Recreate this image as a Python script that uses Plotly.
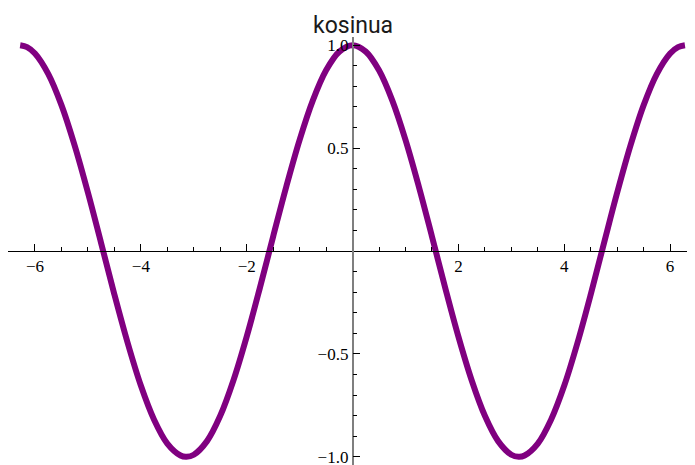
import plotly.graph_objects as go

# Values (cosine curve "kosinua")
x_vals = [-6.28, -6.15, -6.0, -5.75, -5.5, -5.25, -5.0, -4.75, -4.5, -4.25, -4.0,
          -3.75, -3.5, -3.25, -3.14, -3.0, -2.75, -2.5, -2.25, -2.0, -1.75, -1.5,
          -1.25, -1.0, -0.75, -0.5, -0.25, 0.0, 0.25, 0.5, 0.75, 1.0, 1.25, 1.5,
          1.75, 2.0, 2.25, 2.5, 2.75, 3.0, 3.14, 3.25, 3.5, 3.75, 4.0, 4.25, 4.5,
          4.75, 5.0, 5.25, 5.5, 5.75, 6.0, 6.15, 6.28]
y_vals = [1.000, 0.991, 0.960, 0.861, 0.709, 0.512, 0.284, 0.038, -0.211, -0.446, -0.654,
          -0.820, -0.936, -0.994, -1.000, -0.990, -0.924, -0.801, -0.628, -0.416, -0.178, 0.071,
          0.315, 0.540, 0.732, 0.878, 0.969, 1.000, 0.969, 0.878, 0.732, 0.540, 0.315, 0.071,
          -0.178, -0.416, -0.628, -0.801, -0.924, -0.990, -1.000, -0.994, -0.936, -0.820, -0.654,
          -0.446, -0.211, 0.038, 0.284, 0.512, 0.709, 0.861, 0.960, 0.991, 1.000]

title_text = "kosinua"
x_ticks = [-6, -4, -2, 2, 4, 6]
x_labels = ["\u22126", "\u22124", "\u22122", "2", "4", "6"]
x_minor = [-6.5, -5.5, -5, -4.5, -3.5, -3, -2.5, -1.5, -1, -0.5,
           0.5, 1, 1.5, 2.5, 3, 3.5, 4.5, 5, 5.5]
y_ticks = [-1.0, -0.5, 0.5, 1.0]
y_labels = ["\u22121.0", "\u22120.5", "0.5", "1.0"]
y_minor = [-0.9, -0.8, -0.7, -0.6, -0.4, -0.3, -0.2, -0.1,
           0.1, 0.2, 0.3, 0.4, 0.6, 0.7, 0.8, 0.9]

x_range = [-6.51, 6.47]
y_range = [-1.04, 1.04]

fig = go.Figure()
fig.add_trace(go.Scatter(
    x=x_vals, y=y_vals, mode="lines",
    line=dict(color="#800080", width=6, shape="spline", smoothing=1.0),
    showlegend=False, hoverinfo="skip",
))

y_pos = (0 - x_range[0]) / (x_range[1] - x_range[0])
tick_font = dict(family="Liberation Serif, DejaVu Serif, serif", size=17, color="black")

fig.update_layout(
    width=687, height=457,
    margin=dict(l=0, r=0, t=29, b=0, autoexpand=False),
    paper_bgcolor="white", plot_bgcolor="white",
    font=tick_font,
    xaxis=dict(
        range=x_range, showgrid=False, zeroline=False, automargin=False,
        anchor="free", position=0.5,
        showline=True, linecolor="black", linewidth=1,
        tickmode="array", tickvals=x_ticks, ticktext=x_labels,
        ticks="inside", ticklen=7, tickwidth=1, tickcolor="black",
        tickfont=tick_font, ticklabeloverflow="allow",
        minor=dict(tickmode="array", tickvals=x_minor, ticks="inside",
                   ticklen=4, tickwidth=1, tickcolor="black", showgrid=False),
    ),
    yaxis=dict(
        range=y_range, showgrid=False, zeroline=False, automargin=False,
        anchor="free", position=y_pos,
        showline=True, linecolor="#7f7f7f", linewidth=1.5,
        tickmode="array", tickvals=y_ticks, ticktext=y_labels,
        ticks="inside", ticklen=7, tickwidth=1, tickcolor="black",
        tickfont=tick_font, ticklabeloverflow="allow",
        minor=dict(tickmode="array", tickvals=y_minor, ticks="inside",
                   ticklen=4, tickwidth=1, tickcolor="black", showgrid=False),
    ),
    annotations=[dict(
        text=title_text, xref="x", x=0, yref="paper", y=1, yanchor="bottom",
        yshift=-4, showarrow=False,
        font=dict(family="Liberation Sans Narrow, Roboto", size=23, color="#1a1a1a"),
    )],
)

fig.write_html("out.html")
